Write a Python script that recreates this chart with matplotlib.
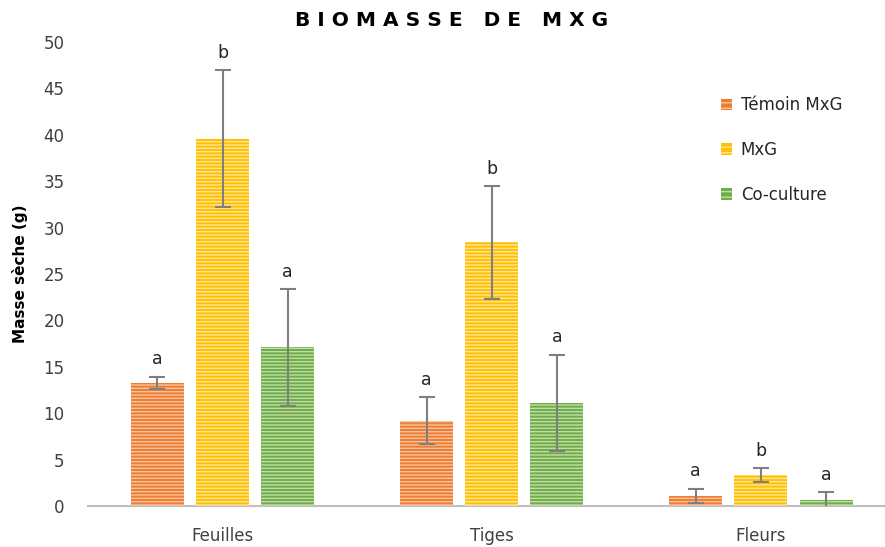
import matplotlib
matplotlib.use("Agg")
import matplotlib.pyplot as plt
import numpy as np
from matplotlib.patches import Patch

plt.rcParams['font.family'] = ['DejaVu Sans']
plt.rcParams['hatch.linewidth'] = 1.0

categories = ["Feuilles", "Tiges", "Fleurs"]
series = ["Témoin MxG", "MxG", "Co-culture"]
temoin = [13.3, 9.2, 1.1]
mxg = [39.6, 28.4, 3.3]
coculture = [17.1, 11.1, 0.65]
temoin_err = [0.65, 2.5, 0.75]
mxg_err = [7.4, 6.1, 0.75]
coculture_err = [6.3, 5.2, 0.85]
temoin_letters = ["a", "a", "a"]
mxg_letters = ["b", "b", "b"]
coculture_letters = ["a", "a", "a"]

colors = ["#ED7D31", "#FFC000", "#70AD47"]
hatch_colors = ["#F8C4A0", "#FFE59A", "#BEDDA8"]

fig = plt.figure(figsize=(8.85, 5.47), dpi=100)
ax = fig.add_axes([88/885, 1-506/547, 1-88/885, (506-42)/547])

x = np.arange(len(categories))
width = 0.197
offsets = [-0.242, 0.0, 0.242]
vals = [temoin, mxg, coculture]
errs = [temoin_err, mxg_err, coculture_err]
letters = [temoin_letters, mxg_letters, coculture_letters]

for i in range(3):
    pos = x + offsets[i]
    ax.bar(pos, vals[i], width, color=colors[i], linewidth=0, zorder=2)
    ax.bar(pos, vals[i], width, facecolor="none", edgecolor=hatch_colors[i],
           linewidth=0, hatch="-----", zorder=3)
    ax.errorbar(pos, vals[i], yerr=errs[i], fmt="none", ecolor="#7F7F7F",
                elinewidth=1.5, capsize=5.5, capthick=1.5, zorder=4)
    for p, v, e, l in zip(pos, vals[i], errs[i], letters[i]):
        ax.annotate(l, (p, v + e), xytext=(0, 6), textcoords="offset points",
                    ha="center", va="bottom", fontsize=12.5, color="#262626")

ax.set_ylim(0, 50)
ax.set_xlim(-0.5, 2 + (885 - 761) / 269)
ax.set_yticks(np.arange(0, 51, 5))
ax.set_xticks(x)
ax.set_xticklabels(categories)
ax.tick_params(axis="both", length=0, labelsize=12, colors="#404040")
ax.tick_params(axis="y", pad=17)
ax.tick_params(axis="x", pad=15)
for s in ["top", "right", "left"]:
    ax.spines[s].set_visible(False)
ax.spines["bottom"].set_color("#BFBFBF")
ax.spines["bottom"].set_linewidth(1.5)

ax.set_ylabel("Masse sèche (g)", fontsize=11, fontweight="bold", color="#000000")
ax.yaxis.set_label_coords(-0.075, 0.5)

fig.text(0.51, 0.963, "B I O M A S S E   D E   M X G", ha="center", va="center",
         fontsize=14.5, fontweight="bold", color="#000000")

handles = [Patch(facecolor=colors[i], edgecolor=hatch_colors[i], linewidth=0, hatch="---")
           for i in range(3)]
leg = ax.legend(handles, series, loc="upper left", bbox_to_anchor=(0.775, 0.915),
                frameon=False, fontsize=12, labelspacing=1.6,
                handlelength=0.7, handleheight=0.7, handletextpad=0.5)
for t in leg.get_texts():
    t.set_color("#262626")

fig.savefig("out.png", dpi=100)
